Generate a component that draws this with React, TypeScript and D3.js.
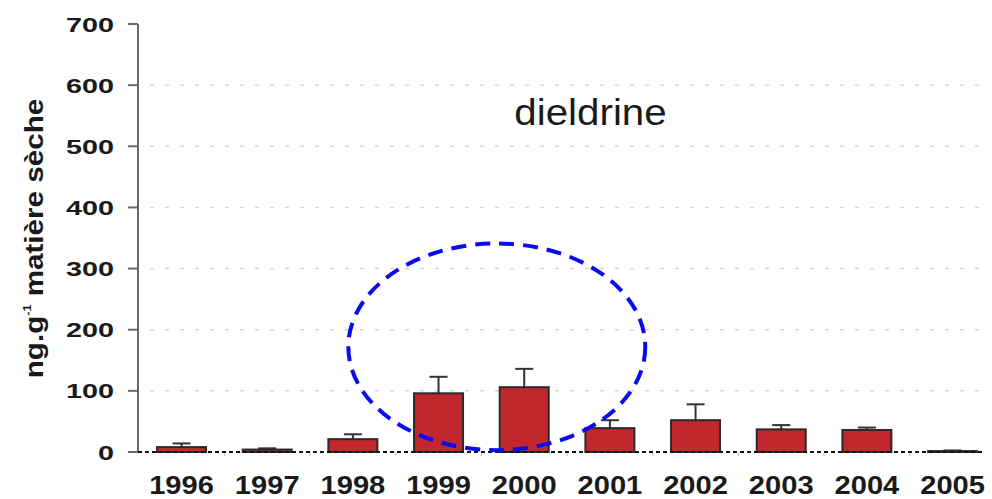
import React from "react";
import * as d3 from "d3";

const years = ["1996", "1997", "1998", "1999", "2000", "2001", "2002", "2003", "2004", "2005"];
const means = [8, 4, 21, 96, 106, 39, 52, 37, 36, 1.5];
const errors = [6, 2, 8, 27, 30, 13, 26, 7, 4, 1];
const yTicks = [0, 100, 200, 300, 400, 500, 600, 700];
const gridTicks = [100, 200, 300, 400, 500, 600];
const titleText = "dieldrine";
const yLabelMain = "ng.g";
const yLabelSup = "-1";
const yLabelRest = " matière sèche";

const W = 992;
const H = 499;
const FONT = "'Liberation Sans', Arial, Helvetica, sans-serif";
const TEXT = "#1a1a1a";

export default function App() {
  const x = d3.scaleBand<string>().domain(years).range([138.7, 995.4]).paddingInner(0.428).paddingOuter(0.214);
  const y = d3.scaleLinear().domain([0, 700]).range([452, 24]);
  const step = x.step();
  const bw = x.bandwidth();
  const x0 = 138;
  const xEnd = 983;

  // ellipse annotation around 1999-2000 (positioned via the scales)
  const ecx = (x("1999") as number) + bw / 2 + 0.68 * step;
  const ecy = y(172);
  const erx = 1.733 * step;
  const ery = y(0) - y(169);

  return (
    <div style={{ position: "absolute", left: 0, top: 0 }}>
      <svg width={W} height={H} style={{ display: "block", background: "#fff" }}>
        {/* gridlines */}
        {gridTicks.map((t) => (
          <line key={"g" + t} x1={150} x2={982} y1={y(t)} y2={y(t)} stroke="#d6d6d6" strokeWidth={1.5} strokeDasharray="4,11" />
        ))}
        {/* y axis */}
        <line x1={x0} x2={x0} y1={y(700)} y2={y(0)} stroke="#6a6a6a" strokeWidth={2} />
        {yTicks.map((t) => (
          <g key={"t" + t}>
            <line x1={128} x2={x0} y1={y(t)} y2={y(t)} stroke="#6a6a6a" strokeWidth={2} />
            <text
              transform={`translate(114,${y(t) + 7.5}) scale(1.37,1)`}
              textAnchor="end"
              fontFamily={FONT}
              fontWeight="bold"
              fontSize={21}
              fill={TEXT}
            >
              {t}
            </text>
          </g>
        ))}
        {/* y label */}
        <text
          transform={`translate(43,${238.5}) rotate(-90) scale(1.14,1)`}
          textAnchor="middle"
          fontFamily={FONT}
          fontWeight="bold"
          fontSize={26}
          fill={TEXT}
        >
          {yLabelMain}
          <tspan fontSize={11} dy={-12}>{yLabelSup}</tspan>
          <tspan dy={12}>{yLabelRest}</tspan>
        </text>
        {/* bars */}
        {years.map((yr, i) => {
          const bx = x(yr) as number;
          const cx = bx + bw / 2;
          const top = y(means[i]);
          const etop = y(means[i] + errors[i]);
          return (
            <g key={yr}>
              <line x1={cx} x2={cx} y1={top} y2={etop} stroke="#333" strokeWidth={2} />
              <line x1={cx - 9} x2={cx + 9} y1={etop} y2={etop} stroke="#333" strokeWidth={2} />
              <rect x={bx} y={top} width={bw} height={y(0) - top} fill="#c1272d" stroke="#2a2a2a" strokeWidth={2} />
            </g>
          );
        })}
        {/* minor ticks at band boundaries */}
        {years.slice(1).map((yr) => {
          const bx = (x(yr) as number) - (step - bw) / 2;
          return <line key={"m" + yr} x1={bx} x2={bx} y1={452} y2={456} stroke="#bbb" strokeWidth={1} />;
        })}
        {/* baseline */}
        <line x1={x0} x2={xEnd} y1={y(0)} y2={y(0)} stroke="#111" strokeWidth={2} strokeDasharray="4,3" />
        {/* x labels */}
        {years.map((yr) => (
          <text
            key={"l" + yr}
            transform={`translate(${(x(yr) as number) + bw / 2},494) scale(1.12,1)`}
            textAnchor="middle"
            fontFamily={FONT}
            fontWeight="bold"
            fontSize={26}
            fill={TEXT}
          >
            {yr}
          </text>
        ))}
        {/* title */}
        <text
          transform={`translate(590.5,125) scale(1.09,1)`}
          textAnchor="middle"
          fontFamily={FONT}
          fontSize={37}
          fill={TEXT}
        >
          {titleText}
        </text>
        {/* ellipse annotation */}
        <ellipse cx={ecx} cy={ecy} rx={erx} ry={ery} fill="none" stroke="#0a0af0" strokeWidth={4} strokeDasharray="15,9" />
      </svg>
    </div>
  );
}
